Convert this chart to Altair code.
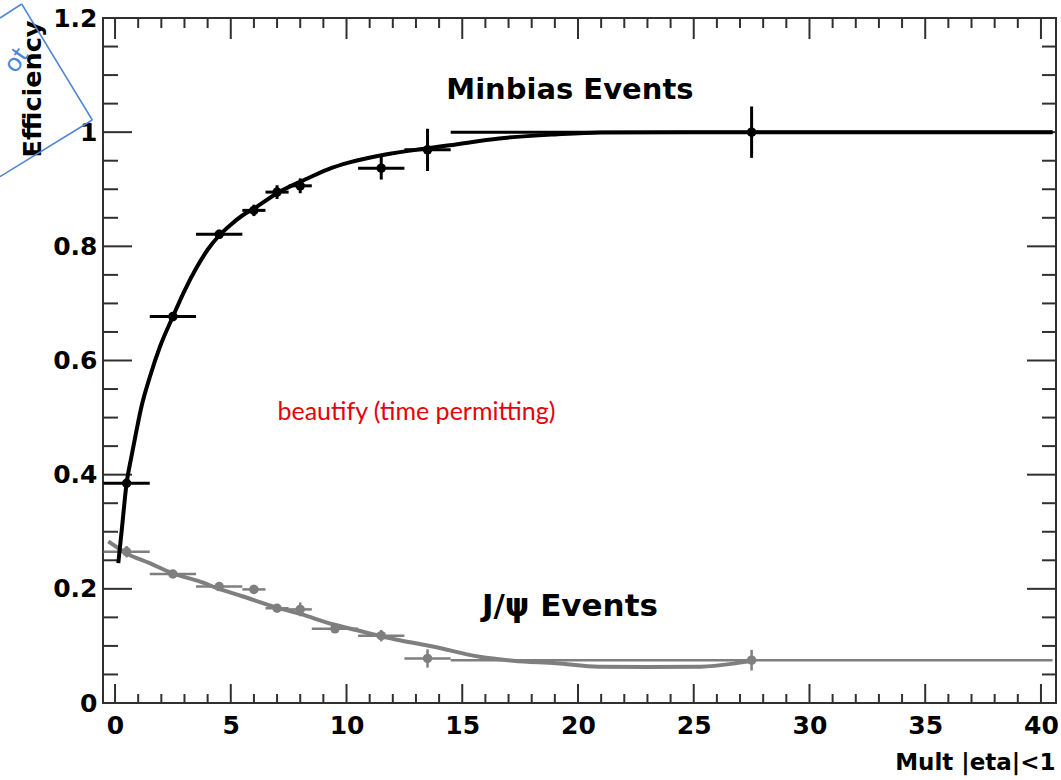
import altair as alt
import pandas as pd

# ---- Minimum-bias trigger efficiency vs multiplicity (bin centres, edges, values, errors)
mb_x = [0.5, 2.5, 4.5, 6.0, 7.0, 8.0, 11.5, 13.5, 27.5]
mb_xlo = [-0.5, 1.5, 3.5, 5.5, 6.5, 7.5, 10.5, 12.5, 14.5]
mb_xhi = [1.5, 3.5, 5.5, 6.5, 7.5, 8.5, 12.5, 14.5, 40.5]
mb_eff = [0.385, 0.677, 0.821, 0.863, 0.895, 0.906, 0.937, 0.969, 1.0]
mb_err = [0.008, 0.008, 0.008, 0.010, 0.012, 0.013, 0.020, 0.037, 0.045]

# ---- J/psi event efficiency
jp_x = [0.5, 2.5, 4.5, 6.0, 7.0, 8.0, 9.5, 11.5, 13.5, 27.5]
jp_xlo = [-0.5, 1.5, 3.5, 5.5, 6.5, 7.5, 8.5, 10.5, 12.5, 14.5]
jp_xhi = [1.5, 3.5, 5.5, 6.5, 7.5, 8.5, 10.5, 12.5, 14.5, 40.5]
jp_eff = [0.265, 0.226, 0.204, 0.199, 0.166, 0.164, 0.130, 0.118, 0.078, 0.075]
jp_err = [0.010, 0.006, 0.006, 0.008, 0.006, 0.012, 0.006, 0.010, 0.016, 0.018]

# ---- Fitted curves (sampled)
mb_fit_x = [0.14, 0.29, 0.5, 0.71, 0.93, 1.14, 1.51, 1.94, 2.5, 3.0, 3.5, 4.0, 4.5,
            5.0, 5.5, 6.0, 7.0, 8.26, 9.2, 10.13, 11.57, 13.52, 14.45, 16.6, 19.0,
            21.0, 25.0, 40.5]
mb_fit_y = [0.245, 0.303, 0.385, 0.432, 0.478, 0.519, 0.572, 0.624, 0.677, 0.722,
            0.761, 0.794, 0.819, 0.838, 0.854, 0.866, 0.893, 0.918, 0.935, 0.947,
            0.960, 0.972, 0.977, 0.989, 0.996, 0.9995, 1.0, 1.0]
jp_fit_x = [-0.29, 0.5, 1.5, 2.5, 3.65, 4.5, 5.5, 7.0, 8.0, 9.4, 10.5, 11.5, 12.3,
            13.73, 15.75, 17.2, 19.06, 20.9, 23.0, 25.3, 26.7, 27.6]
jp_fit_y = [0.283, 0.262, 0.245, 0.227, 0.213, 0.200, 0.187, 0.167, 0.156, 0.138,
            0.127, 0.117, 0.110, 0.099, 0.081, 0.074, 0.0696, 0.0636, 0.063,
            0.0636, 0.069, 0.075]

# ---- Axis ticks
x_major = [0, 5, 10, 15, 20, 25, 30, 35, 40]
x_minor = [v for v in range(0, 41) if v % 5 != 0]
y_major = [0, 0.2, 0.4, 0.6, 0.8, 1.0, 1.2]
y_minor = [round(0.05 * i, 2) for i in range(1, 25) if i % 4 != 0]

# ---- Annotations
label_x = [19.65, 19.65]
label_y = [1.074, 0.168]
label_text = ["Minbias Events", "J/\u03c8 Events"]
label_size = [29, 31]
note_x = [13.02]
note_y = [0.51]
note_text = ["beautify (time permitting)"]

W, H = 953, 685
BLACK = "#000000"
GREY = "#7f7f7f"
FRAME = "#303030"
BOLD_FONT = "DejaVu Sans"

xscale = alt.Scale(domain=[-0.52, 40.65], nice=False, zero=False)
yscale = alt.Scale(domain=[0, 1.2], nice=False, zero=False)

xaxis = alt.Axis(
    values=x_major, format="d", ticks=False, domain=False, grid=False,
    labelFont=BOLD_FONT, labelFontWeight="bold", labelFontSize=25,
    labelColor="black", labelPadding=10, labelFlush=False, labelOverlap=False,
    title="Mult |eta|<1", titleFont=BOLD_FONT, titleFontWeight="bold",
    titleFontSize=23, titleColor="black", titleAnchor="end", titleAlign="right",
    titleBaseline="middle", titleX=W - 1, titleY=59,
)
yaxis = alt.Axis(
    values=y_major, format="~g", ticks=False, domain=False, grid=False,
    labelFont=BOLD_FONT, labelFontWeight="bold", labelFontSize=25,
    labelColor="black", labelPadding=6, labelFlush=False, labelOverlap=False,
    title="Efficiency", titleFont=BOLD_FONT, titleFontWeight="bold",
    titleFontSize=25.5, titleColor="black", titleAngle=270, titleAlign="right",
    titleBaseline="middle", titleAnchor="end", titleX=-71, titleY=2,
)


def X(field):
    return alt.X(field, type="quantitative", scale=xscale, axis=xaxis)


def Y(field):
    return alt.Y(field, type="quantitative", scale=yscale, axis=yaxis)


def series(xs, lo, hi, eff, err):
    return pd.DataFrame({
        "x": xs, "xlo": lo, "xhi": hi, "eff": eff,
        "ylo": [e - d for e, d in zip(eff, err)],
        "yhi": [e + d for e, d in zip(eff, err)],
    })


mb = series(mb_x, mb_xlo, mb_xhi, mb_eff, mb_err)
jp = series(jp_x, jp_xlo, jp_xhi, jp_eff, jp_err)
mb_fit = pd.DataFrame({"x": mb_fit_x, "y": mb_fit_y})
jp_fit = pd.DataFrame({"x": jp_fit_x, "y": jp_fit_y})


def points_layers(df, color, width, size):
    base = alt.Chart(df)
    hbar = base.mark_rule(color=color, strokeWidth=width).encode(
        x=X("xlo"), x2=alt.X2("xhi"), y=Y("eff"))
    vbar = base.mark_rule(color=color, strokeWidth=width).encode(
        x=X("x"), y=Y("ylo"), y2=alt.Y2("yhi"))
    dots = base.mark_circle(color=color, opacity=1, size=size).encode(
        x=X("x"), y=Y("eff"))
    return [hbar, vbar, dots]


jp_curve = alt.Chart(jp_fit).mark_line(
    color=GREY, strokeWidth=4, interpolate="monotone").encode(x=X("x"), y=Y("y"))
mb_curve = alt.Chart(mb_fit).mark_line(
    color=BLACK, strokeWidth=4, interpolate="monotone").encode(x=X("x"), y=Y("y"))

# Inward-pointing ticks on all four sides of the frame
tick_style = dict(color=FRAME, strokeWidth=2)
ym = alt.Chart(pd.DataFrame({"v": y_major}))
yn = alt.Chart(pd.DataFrame({"v": y_minor}))
xm = alt.Chart(pd.DataFrame({"v": x_major}))
xn = alt.Chart(pd.DataFrame({"v": x_minor}))
ticks = [
    ym.mark_rule(**tick_style).encode(y=Y("v"), x=alt.value(0), x2=alt.value(29)),
    yn.mark_rule(**tick_style).encode(y=Y("v"), x=alt.value(0), x2=alt.value(15)),
    ym.mark_rule(**tick_style).encode(y=Y("v"), x=alt.value(W), x2=alt.value(W - 29)),
    yn.mark_rule(**tick_style).encode(y=Y("v"), x=alt.value(W), x2=alt.value(W - 14)),
    xm.mark_rule(**tick_style).encode(x=X("v"), y=alt.value(H), y2=alt.value(H - 19)),
    xn.mark_rule(**tick_style).encode(x=X("v"), y=alt.value(H), y2=alt.value(H - 9)),
    xm.mark_rule(**tick_style).encode(x=X("v"), y=alt.value(0), y2=alt.value(21)),
    xn.mark_rule(**tick_style).encode(x=X("v"), y=alt.value(0), y2=alt.value(10)),
]

labels = alt.Chart(pd.DataFrame({"x": label_x, "y": label_y, "t": label_text,
                                 "s": label_size})).mark_text(
    font=BOLD_FONT, fontWeight="bold", color="black",
    align="center", baseline="middle").encode(
    x=X("x"), y=Y("y"), text="t:N",
    size=alt.Size("s:Q", scale=None, legend=None))
note = alt.Chart(pd.DataFrame({"x": note_x, "y": note_y, "t": note_text})).mark_text(
    font="Lato", fontSize=25, color="#e8000b",
    align="center", baseline="middle").encode(x=X("x"), y=Y("y"), text="t:N")

# Rotated slide text box in the top-left corner
BLUE = "#4f86d4"
one = alt.Chart(pd.DataFrame({"k": [0]}))
box_style = dict(color=BLUE, strokeWidth=1.5)
box = [
    one.mark_rule(**box_style).encode(x=alt.value(-81.3), y=alt.value(-14),
                                      x2=alt.value(-10.7), y2=alt.value(102)),
    one.mark_rule(**box_style).encode(x=alt.value(-10.7), y=alt.value(102),
                                      x2=alt.value(-103), y2=alt.value(158.7)),
    one.mark_rule(**box_style).encode(x=alt.value(-81.3), y=alt.value(-14),
                                      x2=alt.value(-103), y2=alt.value(0)),
    one.mark_text(text="ot", font="Lato", fontSize=26, color=BLUE, angle=305,
                  align="center", baseline="middle").encode(
        x=alt.value(-87), y=alt.value(42)),
]

layers = (ticks + [jp_curve] + points_layers(jp, GREY, 2.5, 90)
          + [mb_curve] + points_layers(mb, BLACK, 3, 90) + [labels, note] + box)

chart = alt.layer(*layers).properties(
    width=W, height=H,
    autosize=alt.AutoSizeParams(type="none"),
    padding={"left": 103, "top": 18, "right": 5, "bottom": 77},
    background="white",
).configure_view(stroke=FRAME, strokeWidth=2)

chart.save("out.html", embed_options={"renderer": "svg", "actions": False})
